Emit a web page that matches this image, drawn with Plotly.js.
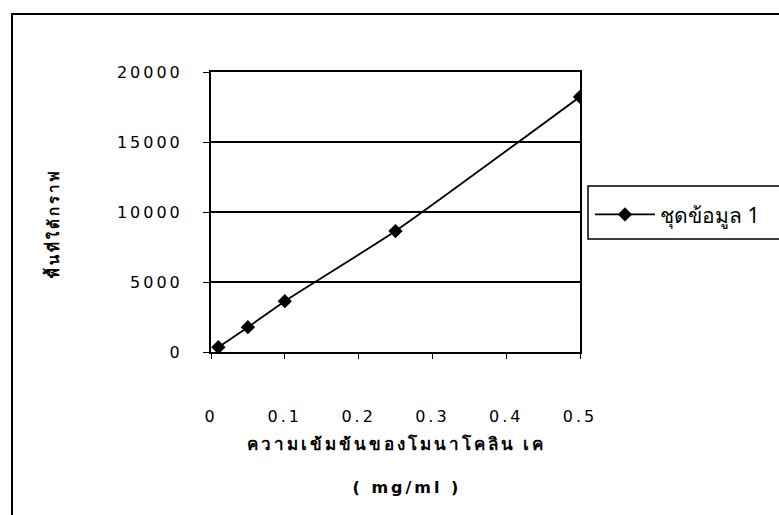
<!DOCTYPE html>
<html>
<head>
<meta charset="utf-8">
<script src="https://cdn.plot.ly/plotly-3.0.1.min.js"></script>
<style>
  html, body { margin: 0; padding: 0; background: #fff; }
  #frame { position: absolute; left: 11px; top: 13px; width: 900px; height: 600px;
           border-left: 2px solid #000; border-top: 2px solid #000; }
  #chart { position: absolute; left: 0; top: 0; width: 779px; height: 515px; }
  #chart .xtick text, #chart .ytick text { letter-spacing: 3px; }
  #chart .annotation-text { letter-spacing: 3px; }
</style>
</head>
<body>
<div id="frame"></div>
<div id="chart"></div>
<script>
// Data
var concentration = [0.01, 0.05, 0.1, 0.25, 0.5];      // mg/ml
var peakArea = [340, 1770, 3630, 8640, 18230];          // area under curve
var seriesName = 'ชุดข้อมูล 1';
var xTitle = 'ความเข้มข้นของโมนาโคลิน เค';
var xUnit = '( mg/ml )';
var yTitle = 'พื้นที่ใต้กราฟ';

var trace = {
  x: concentration,
  y: peakArea,
  name: seriesName,
  type: 'scatter',
  mode: 'lines+markers',
  line: { color: '#000', width: 1.8, shape: 'spline', smoothing: 0.5 },
  marker: { symbol: 'diamond', size: 11, color: '#000' },
  showlegend: true
};

var layout = {
  width: 779, height: 515,
  margin: { l: 211, r: 199, t: 72, b: 163 },
  paper_bgcolor: 'rgba(0,0,0,0)',
  plot_bgcolor: 'rgba(0,0,0,0)',
  font: { family: 'DejaVu Sans, sans-serif', color: '#000', size: 16 },
  xaxis: {
    range: [0, 0.5], dtick: 0.1, tick0: 0,
    showgrid: false, zeroline: false,
    showline: true, linecolor: '#000', linewidth: 2, mirror: true,
    ticks: 'outside', ticklen: 5, tickcolor: '#000',
    ticklabelstandoff: 44,
    tickfont: { size: 16, family: 'DejaVu Sans, sans-serif' }
  },
  yaxis: {
    range: [0, 20000], dtick: 5000, tick0: 0, tickformat: 'd',
    showgrid: true, gridcolor: '#000', gridwidth: 1.6,
    zeroline: false,
    showline: true, linecolor: '#000', linewidth: 2, mirror: true,
    ticks: 'outside', ticklen: 6, tickcolor: '#000',
    ticklabelstandoff: 17,
    tickfont: { size: 16, family: 'DejaVu Sans, sans-serif' }
  },
  legend: {
    x: 1.027, xanchor: 'left', y: 0.49, yanchor: 'middle',
    borderwidth: 0, bgcolor: 'rgba(0,0,0,0)',
    itemwidth: 60,
    font: { size: 21, family: 'Noto Sans, DejaVu Sans, sans-serif' }
  },
  shapes: [
    { type: 'rect', xref: 'paper', yref: 'paper', x0: 1.0217, x1: 1.62, y0: 0.404, y1: 0.593,
      line: { color: '#000', width: 1.5 }, fillcolor: 'rgba(255,255,255,0)', layer: 'above' }
  ],
  annotations: [
    { text: '<b>' + xTitle + '</b>', xref: 'paper', yref: 'paper', x: 0.5, y: 0,
      yanchor: 'middle', yshift: -91, showarrow: false,
      font: { size: 17, family: 'Noto Sans, DejaVu Sans, sans-serif' } },
    { text: '<b>' + xUnit + '</b>', xref: 'paper', yref: 'paper', x: 0.53, y: 0,
      yanchor: 'middle', yshift: -135, showarrow: false,
      font: { size: 16, family: 'DejaVu Sans, sans-serif' } },
    { text: '<b>' + yTitle + '</b>', xref: 'paper', yref: 'paper', x: -0.431, y: 0.464,
      xanchor: 'center', yanchor: 'middle', textangle: -90, showarrow: false,
      font: { size: 15, family: 'Noto Sans, DejaVu Sans, sans-serif' } }
  ]
};

Plotly.newPlot('chart', [trace], layout, { displayModeBar: false, staticPlot: true });
</script>
</body>
</html>
